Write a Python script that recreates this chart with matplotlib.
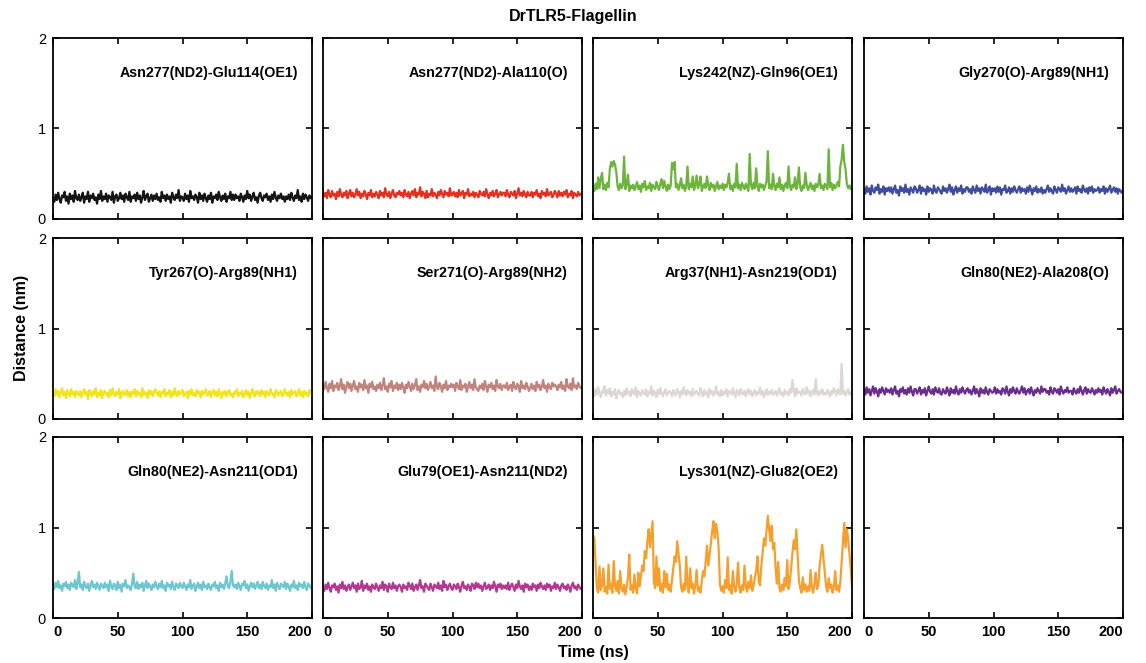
import numpy as np
import matplotlib
matplotlib.use("Agg")
from matplotlib import pyplot as plt

plt.rcParams['font.family'] = ['Liberation Sans', 'DejaVu Sans']

# distances, in units of 0.01 nm, one value per ns (0..200)
asn277_glu114 = """
23 19 27 21 29 22 18 26 24 30 20 25 17 28 22 26 19 31 23 21
27 20 24 29 18 25 22 30 19 26 23 28 21 24 17 27 22 31 20 25
22 28 19 26 24 21 30 18 25 27 20 23 29 22 26 19 28 24 21 30
19 25 23 27 20 29 22 26 18 24 31 21 25 28 19 23 27 20 26 22
28 21 24 19 30 23 26 20 27 22 25 18 29 24 21 27 23 32 20 25
24 20 28 22 26 19 31 23 25 21 27 24 18 29 22 26 20 28 23 19
26 22 29 18 25 23 27 21 30 24 20 26 22 28 19 25 23 30 21 27
21 27 23 25 20 28 24 19 26 22 31 23 27 20 25 29 21 24 18 26
29 23 20 26 24 28 21 25 19 27 22 30 24 20 26 23 28 22 25 19
25 22 27 21 29 24 20 26 23 32 21 25 19 28 22 27 24 20 26 23
24"""

asn277_ala110 = """
30 25 29 23 32 27 24 31 26 28 22 30 25 33 27 24 29 26 31 23
28 32 25 29 24 27 33 26 30 23 28 25 31 27 22 29 26 32 24 28
25 30 27 23 31 26 29 24 34 27 25 30 23 28 32 26 24 29 27 31
26 29 24 32 27 25 30 23 28 31 26 33 24 29 27 35 25 30 28 23
31 24 28 26 33 25 29 27 23 30 26 32 28 24 31 27 29 25 34 26
27 30 25 29 24 32 26 28 31 23 29 27 33 25 28 26 30 24 29 27
24 31 28 26 30 25 33 27 23 29 26 31 25 28 32 24 27 30 26 29
29 25 32 27 24 30 28 26 31 23 28 34 26 29 25 31 27 24 30 26
26 30 24 29 27 32 25 28 23 31 27 29 25 33 26 28 30 24 27 31
28 24 31 26 29 25 30 27 32 24 28 26 31 23 29 27 25 30 26 28
27"""

lys242_gln96 = """
36 31 39 33 46 34 45 51 33 38 32 40 35 55 63 58 64 60 52 36
32 39 34 37 69 33 38 49 31 37 34 38 32 36 41 33 37 30 39 35
42 32 36 34 40 31 38 35 33 41 36 32 39 44 34 42 36 31 38 33
37 62 55 63 35 39 32 37 45 34 38 31 36 58 33 39 35 47 32 37
48 34 38 47 31 36 39 34 47 37 32 40 35 38 31 36 41 33 37 34
39 32 38 35 40 50 33 37 31 39 35 61 34 38 32 40 36 33 39 35
31 72 37 33 40 34 56 36 31 39 35 38 32 37 41 75 34 38 33 50
36 32 39 35 46 33 38 31 37 40 34 58 36 32 38 35 46 33 39 57
35 31 37 34 51 38 32 36 40 33 37 31 39 35 38 50 34 37 32 39
36 33 77 35 40 32 38 34 37 41 36 58 66 82 63 55 39 34 37 33
38"""

gly270_arg89 = """
33 28 36 30 34 27 37 31 29 35 32 38 28 33 30 36 27 34 31 35
30 35 28 33 37 29 32 26 36 31 34 29 38 30 33 27 35 32 29 36
34 29 32 37 28 35 31 33 27 36 30 34 32 28 37 31 29 35 33 30
28 36 31 34 29 33 38 30 35 27 32 36 29 34 31 37 28 33 30 35
35 30 33 28 36 32 29 37 31 34 28 35 33 30 38 29 32 36 27 34
31 34 29 36 30 35 27 33 32 37 29 31 35 28 34 30 36 32 29 33
36 29 34 31 33 28 35 30 37 32 27 34 31 36 29 33 30 35 28 32
29 33 37 30 34 31 28 36 32 29 35 33 30 38 31 34 28 32 36 30
34 30 32 35 28 36 31 33 29 37 32 30 34 28 35 31 36 29 33 31
32 35 29 33 31 36 28 34 30 33 37 29 32 35 30 34 28 33 31 29
32"""

tyr267_arg89 = """
30 25 33 27 31 24 29 34 26 30 23 32 28 25 33 27 30 24 31 28
26 31 24 29 33 27 30 22 32 28 25 31 27 34 24 29 26 32 23 30
31 27 29 24 32 26 34 28 25 30 27 33 23 29 31 26 28 32 25 30
24 30 28 33 25 31 27 29 24 34 26 30 28 23 32 27 31 25 29 33
29 26 31 24 30 28 33 25 29 27 32 24 30 26 34 28 25 31 27 29
32 25 28 30 23 31 27 33 26 29 25 32 28 30 24 31 27 29 33 26
27 31 24 29 32 26 30 25 33 28 23 30 27 31 25 29 32 26 28 24
30 28 33 25 29 27 31 24 28 32 26 30 23 29 33 27 25 31 28 30
25 32 27 30 24 31 28 26 33 29 27 24 32 30 26 29 31 25 28 33
28 26 30 24 32 27 29 31 25 28 33 26 30 24 31 27 29 25 32 28
29"""

ser271_arg89 = """
38 33 41 35 30 39 34 42 31 37 35 40 32 36 44 33 38 29 36 41
34 39 31 37 42 33 36 30 40 35 38 32 43 34 37 29 39 35 41 33
36 31 38 34 40 32 37 45 33 36 30 39 35 42 31 37 34 40 32 38
33 40 35 29 38 34 41 36 31 39 33 37 44 32 36 30 38 35 42 34
39 32 36 41 34 37 31 47 35 33 40 36 30 38 34 42 32 37 35 39
35 38 31 40 36 33 43 32 37 35 39 30 36 41 34 38 32 44 35 33
31 37 34 39 32 42 36 30 38 35 40 33 37 31 43 36 34 39 32 37
37 34 40 32 36 38 31 41 35 33 39 36 30 42 34 37 33 40 36 31
34 39 33 37 31 41 35 38 32 36 43 34 37 30 39 35 33 40 36 38
36 32 38 35 41 33 37 31 44 36 34 39 32 45 35 37 33 40 36 34
35"""

arg37_asn219 = """
30 25 33 27 35 28 24 31 29 36 26 32 28 34 25 30 27 33 23 29
32 27 29 24 31 26 34 28 30 25 33 29 27 35 24 31 28 26 32 29
27 33 25 30 28 36 26 31 29 24 32 27 34 28 25 30 33 26 29 31
29 25 32 28 26 33 30 24 31 27 35 29 26 32 28 30 25 33 27 29
31 28 26 34 29 25 32 27 30 24 33 28 31 26 29 36 27 30 25 32
26 30 28 33 25 31 29 27 34 28 24 32 30 26 33 29 27 31 25 30
33 27 31 25 29 32 26 30 28 35 27 31 24 29 33 26 30 28 32 27
28 31 26 30 34 27 29 25 32 28 30 26 33 29 43 31 25 34 28 30
30 26 33 29 27 35 28 31 25 30 32 27 44 29 26 31 28 33 27 29
27 32 29 25 31 28 34 30 26 33 29 27 61 28 31 26 30 33 27 29
30"""

gln80_ala208 = """
32 27 35 29 33 26 31 36 28 34 30 25 33 29 35 31 27 34 30 32
29 34 27 32 36 28 31 25 33 30 35 28 32 27 34 29 36 30 26 33
33 28 31 35 27 32 29 34 26 31 36 30 28 33 27 35 31 29 34 28
27 33 30 28 35 31 26 34 29 32 28 36 30 27 33 29 35 31 28 32
34 29 32 27 31 36 28 33 30 25 34 29 32 28 35 30 27 33 31 29
30 35 28 33 29 31 27 34 32 28 36 30 26 33 29 35 31 28 34 30
28 32 36 29 34 27 31 33 28 35 30 26 32 29 34 31 28 36 30 33
33 29 31 27 35 30 28 34 32 29 33 27 36 31 28 32 30 35 29 31
31 27 34 30 28 33 29 36 31 27 32 35 28 33 30 29 34 31 27 32
29 34 30 32 27 35 31 28 33 30 26 34 29 32 36 28 31 33 30 29
31"""

gln80_asn211 = """
37 32 39 34 41 33 36 30 38 35 40 33 37 31 39 36 34 42 32 38
51 34 37 31 40 35 33 38 30 36 41 34 37 32 39 35 31 38 36 33
39 34 37 30 41 35 32 38 36 31 40 33 37 29 38 35 42 33 36 34
31 38 49 35 33 40 32 37 34 39 30 36 41 33 38 35 31 37 34 40
35 32 38 34 41 33 36 30 39 35 37 32 40 34 31 38 36 33 39 35
33 39 35 31 37 34 42 32 36 38 30 35 39 33 37 31 40 34 36 32
38 34 31 37 35 40 33 36 30 39 34 37 32 38 46 35 33 40 52 36
34 37 32 39 35 31 38 36 41 33 37 30 35 39 34 38 32 36 40 33
37 32 40 35 33 38 31 36 34 42 33 37 30 39 35 32 38 36 34 40
32 38 35 30 37 34 41 33 36 31 39 35 37 33 40 34 31 38 36 33
35"""

glu79_asn211 = """
35 30 37 32 39 33 29 36 34 38 31 35 28 37 33 40 32 36 30 34
37 31 35 39 33 36 29 38 32 34 41 30 36 33 38 31 35 29 37 34
32 38 34 30 36 33 40 31 37 35 29 38 34 32 39 33 36 30 35 37
34 29 37 33 35 31 39 36 32 38 30 34 37 31 36 42 33 35 29 38
36 33 31 38 34 30 37 35 33 39 32 36 30 41 34 37 31 35 38 33
31 37 35 32 38 34 29 36 40 33 35 31 37 34 30 38 36 32 39 34
38 33 36 30 35 39 32 34 37 31 36 33 40 35 29 37 34 38 32 36
33 36 32 39 31 35 38 34 30 37 33 41 35 32 36 29 38 34 37 31
35 31 38 34 36 30 37 33 39 35 32 36 31 38 34 37 30 35 33 39
32 37 34 30 36 38 33 35 31 37 34 29 36 39 33 35 31 37 34 32
34"""

lys301_glu82 = """
92 88 60 33 28 57 31 36 55 29 34 27 59 32 38 28 63 35 30 41
27 52 33 29 37 26 34 45 70 31 36 28 48 33 27 50 35 46 58 52
74 66 85 98 78 92 107 40 33 68 36 55 30 38 28 52 34 49 31 37
29 42 55 68 62 85 72 58 34 29 38 31 68 35 28 55 33 38 27 36
53 30 34 28 41 52 46 62 80 58 70 82 96 107 88 104 96 78 38 30
35 28 42 33 67 31 36 27 52 34 29 38 61 33 28 36 31 58 35 29
40 33 47 30 36 45 52 68 40 36 58 72 88 80 96 113 98 85 102 76
83 55 38 62 33 29 37 31 44 35 64 32 40 55 72 86 76 98 70 42
33 28 45 31 37 29 35 30 53 34 28 38 50 32 36 58 70 81 66 52
35 29 44 33 37 28 34 52 31 36 29 40 62 85 105 78 98 88 72 55
35"""

pairs = [
    "Asn277(ND2)-Glu114(OE1)", "Asn277(ND2)-Ala110(O)", "Lys242(NZ)-Gln96(OE1)",
    "Gly270(O)-Arg89(NH1)", "Tyr267(O)-Arg89(NH1)", "Ser271(O)-Arg89(NH2)",
    "Arg37(NH1)-Asn219(OD1)", "Gln80(NE2)-Ala208(O)", "Gln80(NE2)-Asn211(OD1)",
    "Glu79(OE1)-Asn211(ND2)", "Lys301(NZ)-Glu82(OE2)",
]
series = [asn277_glu114, asn277_ala110, lys242_gln96, gly270_arg89,
          tyr267_arg89, ser271_arg89, arg37_asn219, gln80_ala208,
          gln80_asn211, glu79_asn211, lys301_glu82]
colors = ["#151515", "#e5301f", "#6cb43c", "#3f4c9e", "#f0e41c", "#c0847e",
          "#ddd6d4", "#6a2c8d", "#6ec6ce", "#b13a90", "#f5a02e"]

fig = plt.figure(figsize=(11.46, 6.63), dpi=100)
W, H = 1146.0, 663.0
lefts = [53, 323, 593, 864]
tops = [38, 238, 437]
pw, ph = 259, 181

for k in range(12):
    r, c = divmod(k, 4)
    ax = fig.add_axes([lefts[c] / W, 1 - (tops[r] + ph) / H, pw / W, ph / H])
    if k < len(series):
        d = np.array(series[k].split(), dtype=float) / 100
        t = np.linspace(0, 200, len(d))
        ax.plot(t, d, color=colors[k], lw=1.6)
        ax.text(0.945, 0.805, pairs[k], transform=ax.transAxes, ha="right",
                va="center", fontsize=10.3, fontweight="bold")
    ax.set_xlim(0, 200)
    ax.set_ylim(0, 2)
    ax.set_xticks([0, 50, 100, 150, 200])
    ax.set_yticks([0, 1, 2])
    ax.tick_params(direction="in", top=True, right=True, length=4, width=1.2,
                   labelsize=10.5, pad=5)
    for s in ax.spines.values():
        s.set_linewidth(1.3)
    if c == 0:
        ax.set_yticklabels(["0", "1", "2"])
    else:
        ax.set_yticklabels([])
    if r == 2:
        labs = ax.set_xticklabels(["0", "50", "100", "150", "200"],
                                  fontweight="bold")
        labs[0].set_horizontalalignment("left")
        labs[-1].set_horizontalalignment("right")
    else:
        ax.set_xticklabels([])

fig.text(573 / W, 1 - 17 / H, "DrTLR5-Flagellin", ha="center", va="center",
         fontsize=11.5, fontweight="bold")
fig.text(22 / W, 1 - 328 / H, "Distance (nm)", ha="center", va="center",
         rotation=90, fontsize=11.5, fontweight="bold")
fig.text(593 / W, 1 - 653 / H, "Time (ns)", ha="center", va="center",
         fontsize=11.5, fontweight="bold")

fig.savefig("out.png", dpi=100)
